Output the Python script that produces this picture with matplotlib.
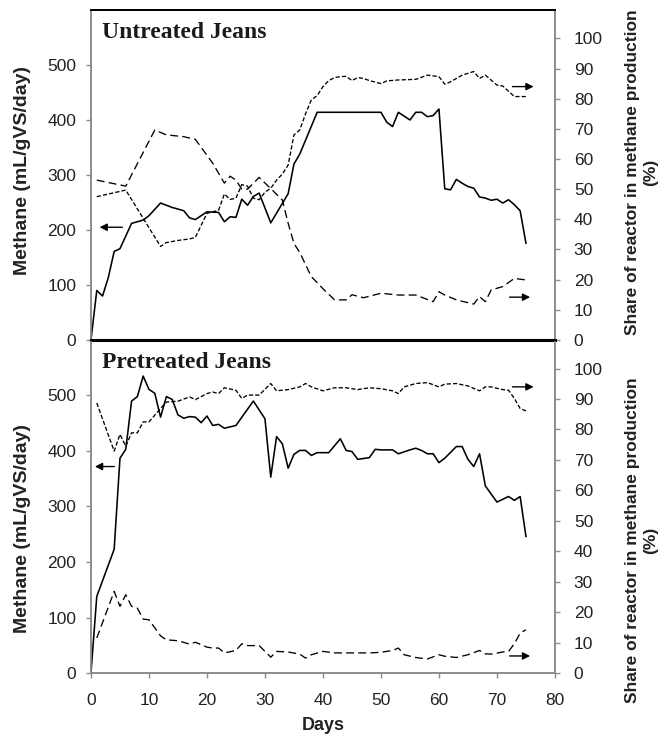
import matplotlib
matplotlib.use('Agg')
import matplotlib.pyplot as plt

plt.rcParams['font.family'] = 'Liberation Sans'

# 未处理牛仔布：甲烷产量 (mL/gVS/day)
ut_day = [0, 1, 2, 3, 4, 5, 7, 9, 10, 12, 14, 16, 17, 18, 19, 20, 22, 23, 24, 25, 26, 27, 28, 29, 31, 34, 35, 36, 39,
          50, 51, 52, 53, 55, 56, 57, 58, 59, 60,
          61, 62, 63, 64, 65, 66, 67, 68, 69, 70, 71, 72, 73, 74, 75]
ut_ch4 = [0, 90, 80, 114, 161, 166, 212, 218, 226, 249, 241, 235, 222, 219, 226, 233, 232, 215, 224, 223, 256, 245, 261, 267, 213, 266, 320, 338, 414,
          414, 396, 388, 414, 400, 414, 414, 406, 408, 420,
          275, 273, 292, 285, 279, 276, 260, 258, 254, 256, 249, 255, 246, 235, 176]

# 未处理牛仔布：反应器份额 (%)，短虚线
ua_day = [1, 6, 12, 13, 15, 17, 18, 20, 21, 22, 23, 24, 25, 26, 27, 28, 29, 30, 31, 32, 33, 34, 35, 36, 37, 38, 39, 40,
          41, 42, 43, 44, 45, 46, 47, 48, 50, 51, 53, 56, 58, 60, 61, 62, 64, 66, 67, 68, 70, 71, 73, 75]
ua_share = [47.5, 49.7, 31, 32.3, 33, 33.5, 34, 42, 42.5, 43, 48.4, 46.6, 47, 51.5, 51, 47, 46.5, 49, 50.3, 53, 55, 58, 68, 69.6, 75, 79.6, 81, 84,
            86, 87, 87.3, 87.4, 86, 87, 86.7, 86, 85, 85.9, 86.2, 86.4, 87.8, 87.3, 84.8, 85.6, 87.8, 89, 86.7, 87.8, 84.5, 84.2, 80.7, 80.7]

# 未处理牛仔布：反应器份额 (%)，长虚线
ub_day = [1, 6, 11, 13, 16, 18, 21, 23, 24, 25, 26, 27, 29, 31, 33, 34, 35, 36, 38, 40, 42, 44, 45, 47, 50, 53, 56,
          59, 60, 61, 63, 66, 67, 68, 69, 71, 73, 75]
ub_share = [53, 51, 69.6, 68, 67.4, 66.5, 58.6, 52, 54.3, 53, 50, 50, 53.9, 50.2, 46.4, 38.7, 32, 29, 21, 17, 13.3, 13.3, 15, 14, 15.5, 14.9, 14.9,
            12.7, 16, 14.9, 13.3, 11.9, 14.4, 12.7, 16.6, 17.7, 20.4, 19.9]

# 预处理牛仔布：甲烷产量
pt_day = [0, 1, 4, 5, 6, 7, 8, 9, 10, 11, 12, 13, 14, 15, 16, 17, 18, 19, 20, 21, 22, 23, 25, 28, 30, 31, 32, 33, 34, 35,
          36, 37, 38, 39, 41, 43, 44, 45, 46, 48, 49, 50, 52, 53, 55, 56, 57, 58, 59, 60, 61, 63, 64, 65, 66, 67, 68, 70,
          72, 73, 74, 75]
pt_ch4 = [0, 138, 223, 387, 403, 490, 498, 535, 511, 504, 461, 498, 493, 465, 459, 462, 461, 451, 463, 446, 448, 441, 446, 490, 458, 353, 426, 413, 369, 394,
          401, 401, 392, 397, 397, 422, 401, 399, 385, 388, 403, 402, 402, 395, 402, 405, 401, 395, 395, 379, 387, 408, 408, 385, 372, 395, 337, 308,
          318, 311, 318, 246]

# 预处理牛仔布：反应器份额 (%)，短虚线
pa_day = [1, 4, 5, 6, 7, 8, 9, 10, 12, 13, 15, 17, 18, 20, 21, 22, 23, 25, 26, 27, 29, 31, 32, 34, 36, 37, 38, 40, 42, 44,
          46, 48, 50, 52, 53, 54, 56, 58, 60, 61, 63, 65, 67, 68, 69, 71, 72, 73, 74, 75]
pa_share = [88.7, 72.9, 78.4, 74.5, 78.9, 78.9, 82.5, 82.5, 86.9, 89, 89.3, 90.7, 89.8, 91.8, 92.3, 91.8, 93.7, 92.9, 90.2, 91.3, 91.3, 95.1, 92.7, 93.1, 94, 95.1, 94, 92.7, 93.7, 93.7,
            93.1, 93.7, 93.4, 92.7, 91.8, 94, 95.1, 95.4, 94, 94.9, 95.1, 94.3, 92.7, 94, 94, 93.1, 92.9, 90.2, 86.9, 86.1]

# 预处理牛仔布：反应器份额 (%)，长虚线
pb_day = pa_day
pb_share = [11.5, 26.8, 21.9, 25.7, 21.9, 21.3, 17.7, 17.5, 12.2, 10.9, 10.6, 9.5, 10.1, 8.5, 8.2, 8.2, 6.6, 7.4, 9.6, 9.0, 9.0, 5.2, 7.1, 6.9, 6.2, 4.9, 6.0, 7.1, 6.6, 6.6,
            6.6, 6.6, 6.8, 7.4, 8.2, 6.0, 5.1, 4.6, 6.0, 5.5, 5.1, 6.0, 7.4, 6.3, 6.2, 6.9, 7.1, 9.6, 13.1, 14.2]

titles = ['Untreated Jeans', 'Pretreated Jeans']
left_ticks = [0, 100, 200, 300, 400, 500]
right_ticks = [0, 10, 20, 30, 40, 50, 60, 70, 80, 90, 100]
x_ticks = [0, 10, 20, 30, 40, 50, 60, 70, 80]

# 箭头位置 (尾, 头)
left_arrows = [((5.9, 205), (1.0, 205)), ((4.5, 372), (0.2, 372))]
right_arrows = [[((72.2, 84), (76.8, 84)), ((71.7, 14.2), (76.2, 14.2))],
                [((72.2, 94), (76.8, 94)), ((71.7, 5.6), (76.2, 5.6))]]

gray = '#8c8c8c'
txt = '#222222'

fig = plt.figure(figsize=(6.65, 7.34), dpi=100)
ax_top = fig.add_axes([0.1368, 0.5368, 0.6977, 0.4496])
ax_bot = fig.add_axes([0.1368, 0.0831, 0.6977, 0.4537])

panels = [
    (ax_top, ut_day, ut_ch4, ua_day, ua_share, ub_day, ub_share),
    (ax_bot, pt_day, pt_ch4, pa_day, pa_share, pb_day, pb_share),
]

for i, (ax, d, ch4, da, sa, db, sb) in enumerate(panels):
    ax2 = ax.twinx()
    ax.plot(d, ch4, color='black', lw=1.15, zorder=3)
    ax2.plot(da, sa, color='black', lw=0.95, dashes=(3.2, 1.6))
    ax2.plot(db, sb, color='black', lw=0.95, dashes=(6, 3.2))

    ax.set_xlim(0, 80)
    ax.set_ylim(0, 600)
    ax2.set_ylim(0, 109.4)
    ax.set_yticks(left_ticks)
    ax2.set_yticks(right_ticks)
    ax.set_xticks(x_ticks)

    for a in (ax, ax2):
        for s in a.spines.values():
            s.set_color(gray)
            s.set_linewidth(1.2)
        a.spines['top'].set_color('black')
        a.spines['top'].set_linewidth(1.4)
        if i == 0:
            a.spines['bottom'].set_color('black')
            a.spines['bottom'].set_linewidth(2.2)

    ax.tick_params(axis='y', direction='out', length=3.6, width=1, color=gray,
                   labelsize=12.5, labelcolor=txt, pad=7)
    ax2.tick_params(axis='y', direction='out', length=3.6, width=1, color=gray,
                    labelsize=12.5, labelcolor=txt, pad=10)
    if i == 0:
        ax.tick_params(axis='x', bottom=False, labelbottom=False)
    else:
        ax.tick_params(axis='x', direction='out', length=3.6, width=1, color=gray,
                       labelsize=12.5, labelcolor=txt, pad=11)
        ax.set_xlabel('Days', fontsize=13, fontweight='bold', color=txt, labelpad=6)

    ax.text(0.023, 0.915, titles[i], transform=ax.transAxes, ha='left', va='baseline',
            fontsize=17, fontweight='bold', family='Liberation Serif', color='#1a1a1a')

    # 箭头
    tail, head = left_arrows[i]
    ax.annotate('', xy=head, xytext=tail,
                arrowprops=dict(arrowstyle='-|>', color='black', lw=1.0, mutation_scale=11))
    for tail, head in right_arrows[i]:
        ax2.annotate('', xy=head, xytext=tail,
                     arrowprops=dict(arrowstyle='-|>', color='black', lw=1.0, mutation_scale=11))

# 轴标题
for yc in [0.768, 0.28]:
    fig.text(0.034, yc, 'Methane (mL/gVS/day)', rotation=90, ha='center', va='center',
             fontsize=14, fontweight='bold', color=txt)
for yc in [0.765, 0.264]:
    fig.text(0.965, yc, 'Share of reactor in methane production\n(%)', rotation=90,
             ha='center', va='center', multialignment='center', linespacing=1.3,
             fontsize=12.5, fontweight='bold', color=txt)

fig.savefig('out.png', dpi=100)
